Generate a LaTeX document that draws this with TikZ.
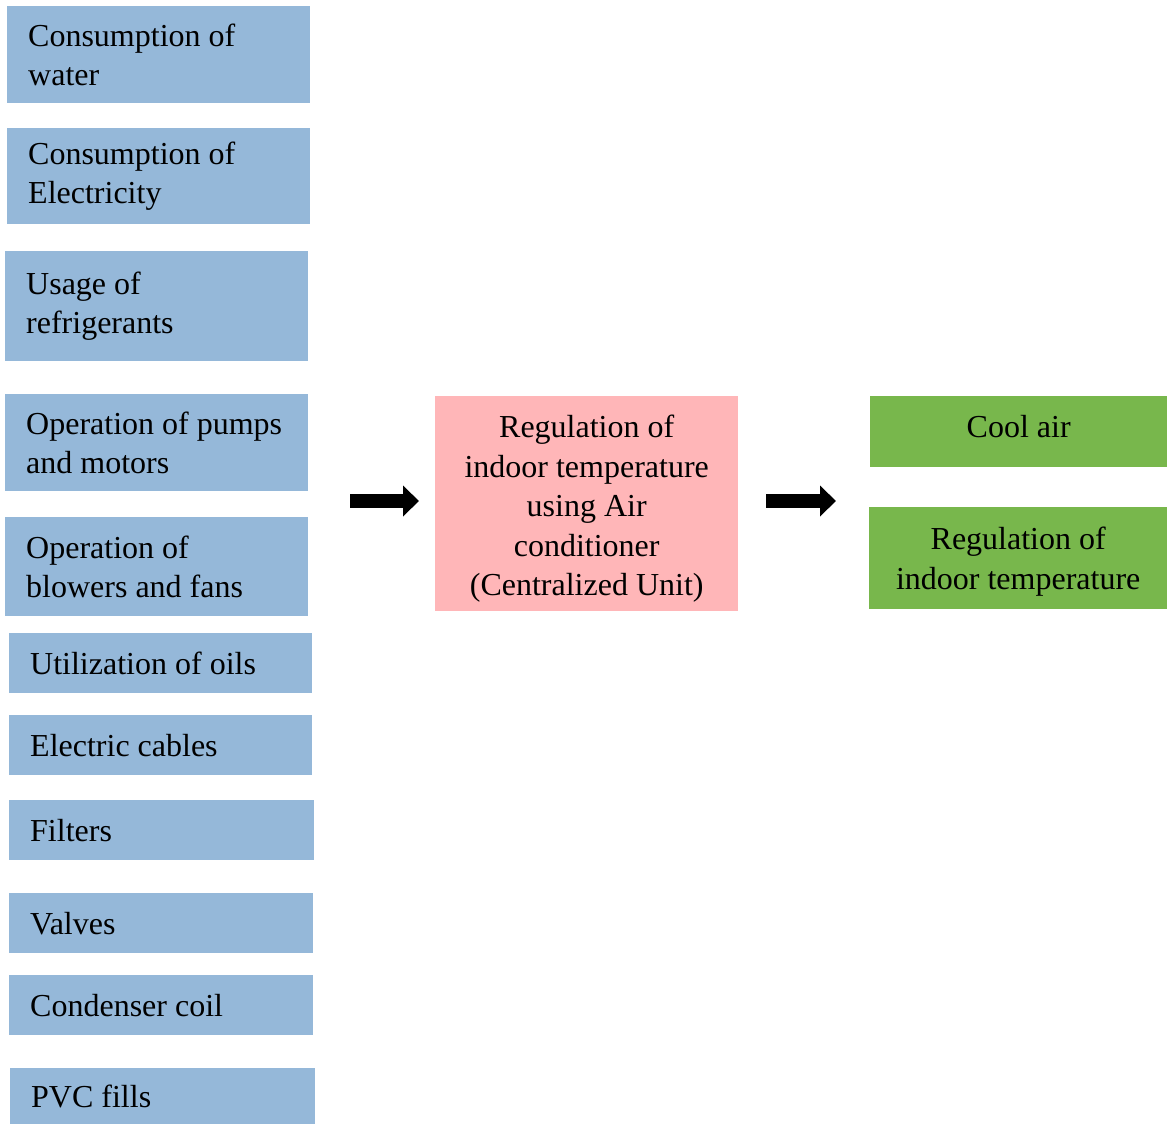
\documentclass[tikz,border=0pt]{standalone}
\usepackage{fontspec}
\setmainfont{Liberation Serif}
\usetikzlibrary{arrows.meta}
\definecolor{inblue}{RGB}{149,184,217}
\definecolor{corepink}{RGB}{255,182,184}
\definecolor{outgreen}{RGB}{120,183,76}
\newcommand\diagboxfont{\fontsize{32}{39.5}\selectfont}
\newcommand\diagspaces{\spaceskip=8pt\relax\xspaceskip=8pt\relax}
\begin{document}
\begin{tikzpicture}[x=1pt,y=-1pt,
  basebox/.style={anchor=north west,inner ysep=0pt,font=\diagboxfont,execute at begin node=\diagspaces},
  inbox/.style={basebox,fill=inblue,inner xsep=21pt,align=left},
  corebox/.style={basebox,fill=corepink,align=center,inner xsep=4pt},
  outbox/.style={basebox,fill=outgreen,align=center,inner xsep=4pt},
  bigarrow/.style={line width=14pt,-{Triangle[length=16pt,width=30pt]}}]
\useasboundingbox (0,0) rectangle (1167,1124);
\node[inbox,minimum width=303pt,minimum height=97pt,text width=261pt] (w) at (7,6) {Consumption of\\water};
\node[inbox,minimum width=303pt,minimum height=96pt,text width=261pt] (e) at (7,128) {Consumption of\\Electricity};
\node[inbox,minimum width=303pt,minimum height=110pt,text width=261pt] (r) at (5,251) {Usage of\\refrigerants};
\node[inbox,minimum width=303pt,minimum height=97pt,text width=261pt] (p) at (5,394) {Operation of pumps\\and motors};
\node[inbox,minimum width=303pt,minimum height=99pt,text width=261pt] (b) at (5,517) {Operation of\\blowers and fans};
\node[inbox,minimum width=303pt,minimum height=60pt,text width=261pt] (o) at (9,633) {Utilization of oils};
\node[inbox,minimum width=303pt,minimum height=60pt,text width=261pt] (c) at (9,715) {Electric cables};
\node[inbox,minimum width=305pt,minimum height=60pt,text width=263pt] (f) at (9,800) {Filters};
\node[inbox,minimum width=304pt,minimum height=60pt,text width=262pt] (v) at (9,893) {Valves};
\node[inbox,minimum width=304pt,minimum height=60pt,text width=262pt] (k) at (9,975) {Condenser coil};
\node[inbox,minimum width=305pt,minimum height=56pt,text width=263pt] (pvc) at (10,1068) {PVC fills};
\node[corebox,minimum width=303pt,minimum height=215pt,text width=295pt] (core) at (435,396) {\rule{0pt}{33pt}Regulation of\\indoor temperature\\using Air\\conditioner\\(Centralized Unit)};
\node[outbox,minimum width=297pt,minimum height=71pt,text width=289pt] (cool) at (870,396) {Cool air\rule[-10pt]{0pt}{10pt}};
\node[outbox,minimum width=298pt,minimum height=102pt,text width=290pt] (reg) at (869,507) {\rule{0pt}{29pt}Regulation of\\indoor temperature};
\coordinate (a1s) at (350,501);
\coordinate (a1e) at (419,501);
\coordinate (a2s) at (766,501);
\coordinate (a2e) at (836,501);
\draw[bigarrow] (a1s) -- (a1e);
\draw[bigarrow] (a2s) -- (a2e);
\end{tikzpicture}
\end{document}
